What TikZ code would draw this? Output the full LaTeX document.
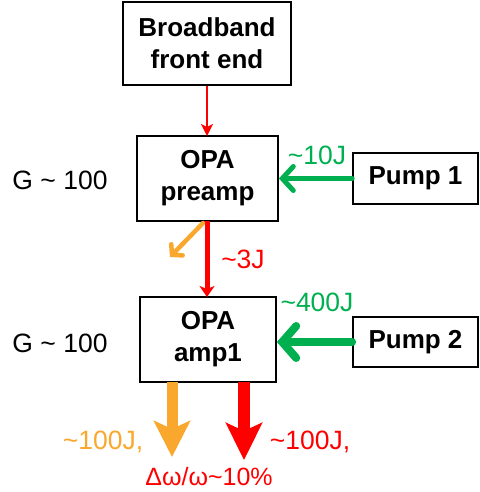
\documentclass[tikz,border=0pt]{standalone}
\usepackage{fontspec}
\setmainfont{Liberation Sans}
\usetikzlibrary{arrows.meta}
\definecolor{myred}{RGB}{255,0,0}
\definecolor{mygreen}{RGB}{0,176,80}
\definecolor{myorange}{RGB}{250,168,45}
\newcommand{\tl}{\textasciitilde}
\begin{document}
\begin{tikzpicture}[x=1pt,y=-1pt,
  box/.style={draw=black,line width=1.8pt,inner sep=0pt,align=center,font=\fontsize{26}{32}\selectfont\bfseries},
  lbl/.style={inner sep=0pt,font=\fontsize{26.5}{31}\selectfont},
  barb/.style={line cap=round,line join=round},
]
\useasboundingbox (0,0) rectangle (479,492);
\node[box,minimum width=168pt,minimum height=83pt] (bb) at (207,43.5) {Broadband\\front end};
\node[box,minimum width=141pt,minimum height=85pt] (pre) at (207.5,178.5) {OPA\\preamp};
\node[box,minimum width=125pt,minimum height=51pt] (p1) at (415.5,178.5) {Pump 1};
\node[box,minimum width=136pt,minimum height=85pt] (amp) at (208,339.5) {OPA\\amp1};
\node[box,minimum width=125pt,minimum height=50pt] (p2) at (415.5,342) {Pump 2};

\node[lbl] (g1) at (60,180) {G \tl{} 100};
\node[lbl] (g2) at (60,343) {G \tl{} 100};
\node[lbl,text=mygreen] (e10) at (317,155) {\tl10J};
\node[lbl,text=mygreen] (e400) at (317,302) {\tl400J};
\node[lbl,text=myred] (e3) at (243,259) {\tl3J};
\node[lbl,text=myorange] (o100) at (103,442) {\tl100J,};
\node[lbl,text=myred] (r100) at (310,442) {\tl100J,};
\node[lbl,text=myred,font=\fontsize{25}{30}\selectfont] (dw) at (209,477) {Δω/ω\tl10\%};

\coordinate (bbs) at (207,85);
\coordinate (pren) at (207,136);
\draw[myred,line width=1.6pt,-{Stealth[length=12pt,width=12pt,inset=3pt]}] (bb.south -| bbs) -- (pren);
\coordinate (pres) at (207,221);
\coordinate (ampn) at (207,297);
\draw[myred,line width=5pt,-{Stealth[length=11pt,width=15pt,inset=3pt]}] (pres) -- (ampn);
\draw[mygreen,line width=5pt,barb,-{Straight Barb[length=11pt,width=24pt,line cap=round]}] (p1.west) -- (pre.east);
\draw[mygreen,line width=8pt,barb,-{Straight Barb[length=14pt,width=32pt,line cap=round]}] (p2.west) -- (amp.east |- p2.west);
\coordinate (os) at (203,223);
\coordinate (oe) at (170,257);
\draw[myorange,line width=4.5pt,barb,-{Straight Barb[length=7pt,width=16pt,line cap=round]}] (os) -- (oe);
\coordinate (bo1) at (172,382);
\coordinate (bo2) at (172,457);
\draw[myorange,line width=11pt,-{Stealth[length=36pt,width=36pt,inset=8pt]}] (bo1) -- (bo2);
\coordinate (br1) at (244,382);
\coordinate (br2) at (244,460);
\draw[myred,line width=12pt,-{Stealth[length=37pt,width=36pt,inset=8pt]}] (br1) -- (br2);
\end{tikzpicture}
\end{document}
